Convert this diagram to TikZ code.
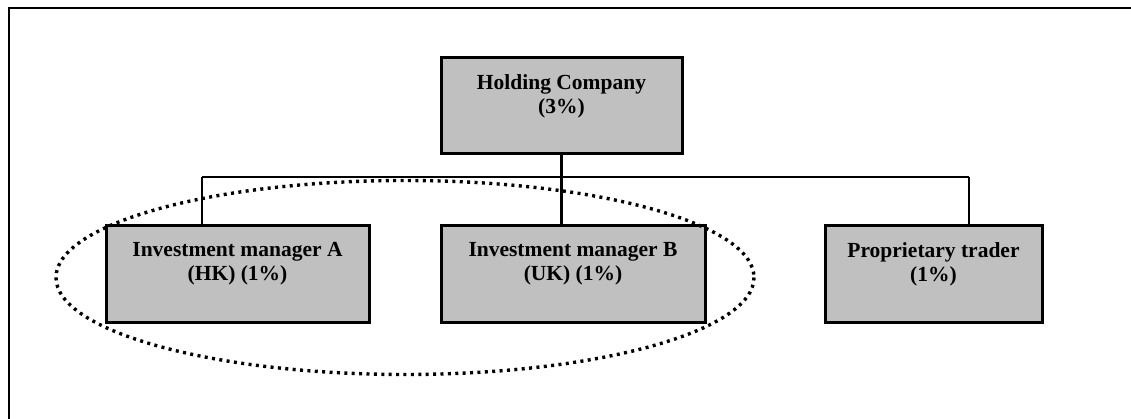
\documentclass[tikz,border=0pt]{standalone}
\usepackage{fontspec}
\setmainfont{Liberation Serif}
\begin{document}
\begin{tikzpicture}[x=1pt,y=-1pt,
  orgbox/.style={draw=black, line width=3pt, fill=boxgray, inner sep=0pt},
  boxlabel/.style={font=\bfseries\fontsize{21.5}{24.5}\selectfont, align=center, anchor=north, inner sep=0pt},
  link/.style={line width=2.1pt, black},
  groupring/.style={line width=3.4pt, dash pattern=on 3pt off 4.4pt, black}]
\definecolor{boxgray}{RGB}{192,192,192}
\useasboundingbox (0,0) rectangle (1131,419);

% frame (top and left edges)
\draw[line width=2.8pt] (9,419) -- (9,8) -- (1131,8);

% companies
\node[orgbox, minimum width=241pt, minimum height=96pt] (hold) at (561.5,106) {};
\node[orgbox, minimum width=263pt, minimum height=96pt] (imA) at (237.5,274) {};
\node[orgbox, minimum width=264pt, minimum height=96pt] (imB) at (573,274) {};
\node[orgbox, minimum width=217pt, minimum height=96pt] (prop) at (933.5,274) {};

\node[boxlabel] (holdT) at (561.5,74) {Holding Company\\(3\%)};
\node[boxlabel] (imAT) at (237.5,242) {Investment manager A\\(HK) (1\%)};
\node[boxlabel] (imBT) at (573,242) {Investment manager B\\(UK) (1\%)};
\node[boxlabel] (propT) at (933.5,242) {Proprietary trader\\(1\%)};

% ownership tree
\coordinate (busL) at (202,177);
\coordinate (busR) at (969,177);
\draw[link] (hold.south) -- (hold.south |- busL);
\draw[link] (busL) -- (busR);
\draw[link] (busL) -- (busL |- imA.north);
\draw[link] (hold.south |- busL) -- (hold.south |- imB.north);
\draw[link] (busR) -- (busR |- prop.north);

% grouping of the two investment managers
\draw[groupring] (405,277.5) ellipse [x radius=349, y radius=97];
\end{tikzpicture}
\end{document}
